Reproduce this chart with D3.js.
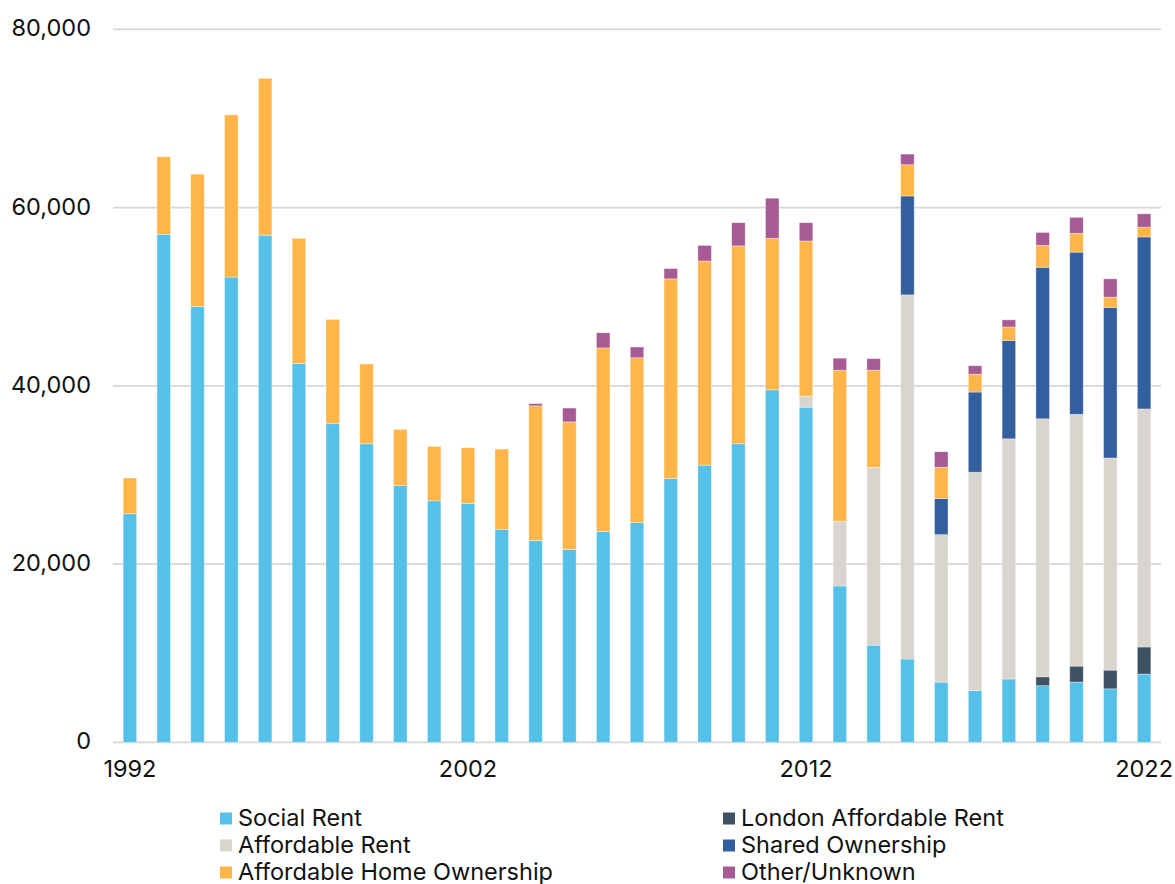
<!DOCTYPE html>
<html>
<head>
<meta charset="utf-8">
<script src="https://cdn.jsdelivr.net/npm/d3@7"></script>
<style>
  html, body { margin: 0; padding: 0; background: #ffffff; }
  svg { display: block; font-family: Inter, "Noto Sans", sans-serif; }
</style>
</head>
<body>
<svg id="chart" width="1175" height="884"></svg>
<script>
// Completions by tenure, 1992–2022
const years = d3.range(1992, 2023);

const socialRent = [25650, 57000, 48900, 52200, 56900, 42500, 35750, 33500, 28800, 27100,
  26800, 23900, 22650, 21650, 23650, 24650, 29600, 31100, 33500, 39550,
  37600, 17550, 10900, 9350, 6750, 5800, 7050, 6350, 6750, 6000, 7650];
const londonAffordableRent = [0, 0, 0, 0, 0, 0, 0, 0, 0, 0,
  0, 0, 0, 0, 0, 0, 0, 0, 0, 0,
  0, 0, 0, 0, 0, 0, 100, 1000, 1800, 2100, 3050];
const affordableRent = [0, 0, 0, 0, 0, 0, 0, 0, 0, 0,
  0, 0, 0, 0, 0, 0, 0, 0, 0, 0,
  1250, 7250, 19950, 40850, 16550, 24500, 26900, 28950, 28250, 23800, 26700];
const sharedOwnership = [0, 0, 0, 0, 0, 0, 0, 0, 0, 0,
  0, 0, 0, 0, 0, 0, 0, 0, 0, 0,
  0, 0, 0, 11100, 4050, 9000, 11050, 17000, 18200, 16900, 19300];
const affordableHomeOwnership = [4000, 8700, 14850, 18200, 17600, 14050, 11700, 8950, 6300, 6100,
  6250, 9000, 15100, 14300, 20600, 18500, 22400, 22900, 22200, 17000,
  17400, 16950, 10900, 3500, 3500, 2000, 1500, 2450, 2100, 1150, 1100];
const otherUnknown = [0, 0, 0, 0, 0, 0, 0, 0, 0, 0,
  0, 0, 250, 1550, 1700, 1200, 1150, 1750, 2600, 4500,
  2050, 1350, 1300, 1200, 1750, 950, 800, 1450, 1800, 2050, 1500];

const yTicks = [0, 20000, 40000, 60000, 80000];
const xTickYears = [1992, 2002, 2012, 2022];

const seriesDefs = [
  { key: "Social Rent", values: socialRent, color: "#56c1e8" },
  { key: "London Affordable Rent", values: londonAffordableRent, color: "#3f5263" },
  { key: "Affordable Rent", values: affordableRent, color: "#d8d4ce" },
  { key: "Shared Ownership", values: sharedOwnership, color: "#345f9e" },
  { key: "Affordable Home Ownership", values: affordableHomeOwnership, color: "#ffb548" },
  { key: "Other/Unknown", values: otherUnknown, color: "#a65b94" }
];

// Legend layout: left column then right column
const legendOrder = ["Social Rent", "Affordable Rent", "Affordable Home Ownership",
  "London Affordable Rent", "Shared Ownership", "Other/Unknown"];

const rows = years.map((yr, i) => {
  const r = { year: yr };
  seriesDefs.forEach(s => { r[s.key] = s.values[i]; });
  return r;
});

const FONT = "Inter, 'Noto Sans', sans-serif";
const FONT_SIZE = 23.5;

const svg = d3.select("#chart");
const plot = { left: 113, right: 1161, top: 29.3, bottom: 742.3 };

const x = d3.scaleBand()
  .domain(years)
  .range([plot.left, plot.right])
  .paddingInner(0.6)
  .paddingOuter(0.3);

const y = d3.scaleLinear()
  .domain([0, 80000])
  .range([plot.bottom, plot.top]);

// Gridlines
svg.append("g")
  .selectAll("line")
  .data(yTicks)
  .join("line")
  .attr("x1", plot.left)
  .attr("x2", plot.right)
  .attr("y1", d => y(d))
  .attr("y2", d => y(d))
  .attr("stroke", "#d6d6d6")
  .attr("stroke-width", 1.7);

// Y axis labels
const yAxis = d3.axisLeft(y)
  .tickValues(yTicks)
  .tickFormat(d3.format(","))
  .tickSize(0)
  .tickPadding(0);
svg.append("g")
  .attr("transform", `translate(91,-1)`)
  .call(yAxis)
  .call(g => g.select(".domain").remove())
  .call(g => g.selectAll("text")
    .attr("font-family", FONT)
    .attr("font-size", FONT_SIZE)
    .attr("fill", "#111111"));

// Stacked bars
const stack = d3.stack().keys(seriesDefs.map(s => s.key));
const stacked = stack(rows);
const colorOf = Object.fromEntries(seriesDefs.map(s => [s.key, s.color]));

svg.append("g")
  .selectAll("g")
  .data(stacked)
  .join("g")
  .attr("fill", d => colorOf[d.key])
  .selectAll("rect")
  .data(d => d.filter(p => p[1] - p[0] > 0))
  .join("rect")
  .attr("x", d => x(d.data.year))
  .attr("width", x.bandwidth())
  .attr("y", d => y(d[1]))
  .attr("height", d => y(d[0]) - y(d[1]))
  .attr("stroke", "rgba(255,255,255,0.45)")
  .attr("stroke-width", 0.8);

// X axis labels
const xAxis = d3.axisBottom(x)
  .tickValues(xTickYears)
  .tickSize(0)
  .tickPadding(0);
svg.append("g")
  .attr("transform", `translate(0,${plot.bottom + 18})`)
  .call(xAxis)
  .call(g => g.select(".domain").remove())
  .call(g => g.selectAll("text")
    .attr("font-family", FONT)
    .attr("font-size", FONT_SIZE)
    .attr("fill", "#111111"));

// Legend
const legendCols = [220, 723];
const legendRows = [818, 845, 872];
const legend = svg.append("g")
  .selectAll("g")
  .data(legendOrder)
  .join("g")
  .attr("transform", (d, i) => `translate(${legendCols[Math.floor(i / 3)]},${legendRows[i % 3]})`);

legend.append("rect")
  .attr("x", 0)
  .attr("y", -5.5)
  .attr("width", 12)
  .attr("height", 12)
  .attr("fill", d => colorOf[d]);

legend.append("text")
  .attr("x", 18)
  .attr("y", 0)
  .attr("dy", "0.35em")
  .attr("font-family", FONT)
  .attr("font-size", FONT_SIZE)
  .attr("fill", "#111111")
  .text(d => d);
</script>
</body>
</html>
